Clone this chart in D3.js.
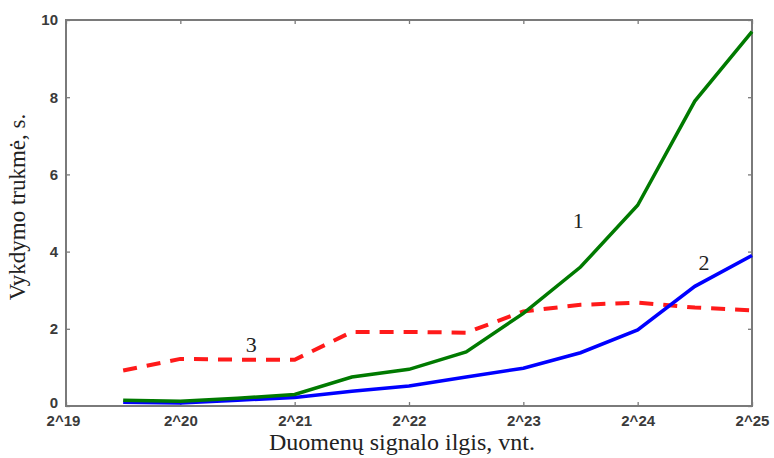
<!DOCTYPE html>
<html><head><meta charset="utf-8">
<script src="https://cdn.jsdelivr.net/npm/d3@7"></script>
<style>body{margin:0;background:#fff}</style>
</head><body>
<svg id="c" width="774" height="458"></svg>
<script>
const exponents = [19.5, 20, 20.5, 21, 21.5, 22, 22.5, 23, 23.5, 24, 24.5, 25];
const series1 = [0.15, 0.12, 0.2, 0.3, 0.75, 0.95, 1.4, 2.4, 3.6, 5.2, 7.9, 9.7];
const series2 = [0.1, 0.08, 0.15, 0.22, 0.38, 0.52, 0.75, 0.98, 1.38, 1.97, 3.1, 3.9];
const series3 = [0.92, 1.22, 1.2, 1.2, 1.92, 1.92, 1.9, 2.45, 2.62, 2.68, 2.55, 2.48];
const xTicks = [19, 20, 21, 22, 23, 24, 25];
const yTicks = [0, 2, 4, 6, 8, 10];
const labels = [{t:"1", x:23.48, y:4.8}, {t:"2", x:24.58, y:3.72}, {t:"3", x:20.62, y:1.6}];

const L=66, R=752, T=20, B=406;
const svg = d3.select("#c");
const x = d3.scaleLinear().domain([19,25]).range([L,R]);
const y = d3.scaleLinear().domain([0,10]).range([B,T]);
const axCol = "#7a7a7a";

const tickFmt = d => "2^" + d;
const gx = svg.append("g").attr("transform",`translate(0,${B})`)
  .call(d3.axisBottom(x).tickValues(xTicks).tickFormat(tickFmt).tickSize(-4).tickPadding(9));
const gxt = svg.append("g").attr("transform",`translate(0,${T})`)
  .call(d3.axisTop(x).tickValues(xTicks).tickFormat("").tickSize(-4));
const gy = svg.append("g").attr("transform",`translate(${L},0)`)
  .call(d3.axisLeft(y).tickValues(yTicks).tickFormat(d3.format("d")).tickSize(-4).tickPadding(8));
const gyr = svg.append("g").attr("transform",`translate(${R},0)`)
  .call(d3.axisRight(y).tickValues(yTicks).tickFormat("").tickSize(-4));
[gx,gxt,gy,gyr].forEach(g=>{
  g.select(".domain").remove();
  g.selectAll("line").attr("stroke",axCol).attr("stroke-width",1.3);
  g.selectAll("text").attr("fill","#3a3a3a").style("font-family","Liberation Sans, Arial, sans-serif")
   .style("font-size","15px").style("font-weight","bold");
});
gx.selectAll("text").attr("dy","0.75em");
gx.selectAll(".tick").filter(d=>d===19).select("text").attr("x",-3);
gy.selectAll(".tick").filter(d=>d===0).select("text").attr("dy","0.1em");
svg.append("rect").attr("x",L).attr("y",T).attr("width",R-L).attr("height",B-T)
  .attr("fill","none").attr("stroke",axCol).attr("stroke-width",2);

const line = d3.line().x((d,i)=>x(exponents[i])).y(d=>y(d));
svg.append("path").datum(series3).attr("d",line).attr("fill","none")
  .attr("stroke","#ff1a1a").attr("stroke-width",4).attr("stroke-dasharray","14,10");
svg.append("path").datum(series2).attr("d",line).attr("fill","none")
  .attr("stroke","#0000ff").attr("stroke-width",3.5);
svg.append("path").datum(series1).attr("d",line).attr("fill","none")
  .attr("stroke","#007a00").attr("stroke-width",3.5);

svg.selectAll("text.lab").data(labels).enter().append("text").attr("class","lab")
  .attr("x",d=>x(d.x)).attr("y",d=>y(d.y)).attr("text-anchor","middle").attr("dy","0.35em")
  .attr("fill","#222").style("font-family","Liberation Serif, Times New Roman, serif").style("font-size","22px")
  .text(d=>d.t);

svg.append("text").attr("x",402).attr("y",450).attr("text-anchor","middle")
  .attr("fill","#222").style("font-family","Liberation Serif, Times New Roman, serif").style("font-size","24px")
  .text("Duomenų signalo ilgis, vnt.");
svg.append("text").attr("transform",`translate(25,207) rotate(-90)`).attr("text-anchor","middle")
  .attr("fill","#222").style("font-family","Liberation Serif, Times New Roman, serif").style("font-size","23px")
  .text("Vykdymo trukmė, s.");
</script>
</body></html>
